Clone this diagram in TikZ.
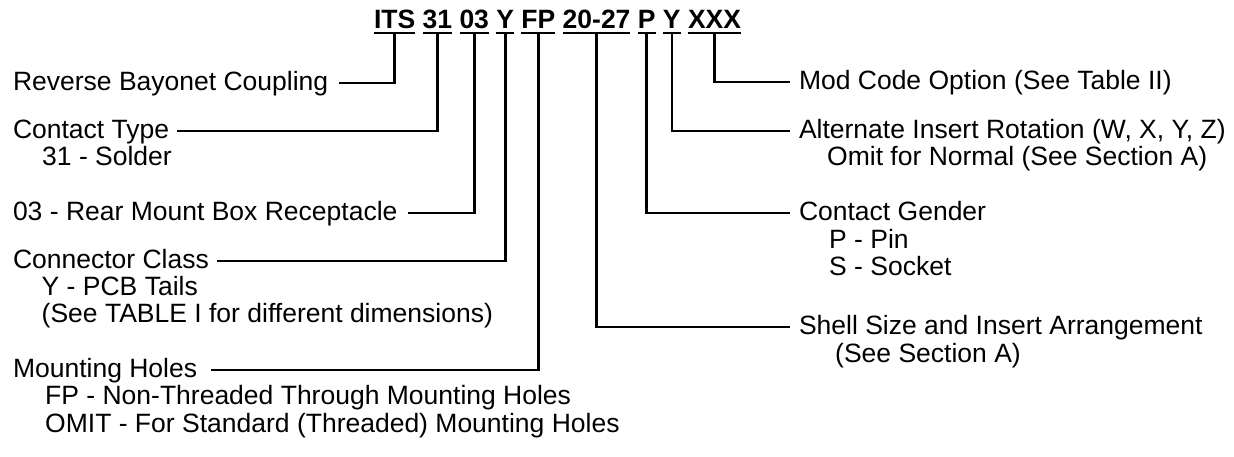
\documentclass[tikz,border=0pt]{standalone}
\usepackage{fontspec}
\setmainfont{Liberation Sans}
\tikzset{
  txt/.style={font=\fontsize{26.5}{28}\selectfont},
  seg/.style={font=\fontsize{26.5}{28}\selectfont\bfseries, anchor=base west,
              inner xsep=0pt, inner ysep=4pt, text depth=0pt, outer sep=0pt},
  headl/.style={txt, anchor=west, inner xsep=8pt, inner ysep=0pt,
                text height=19pt, text depth=4pt, outer sep=0pt},
  sub/.style={txt, anchor=base west, inner sep=0pt},
  ln/.style={line width=2.6pt, line join=miter},
  ul/.style={line width=2.4pt}
}
\begin{document}
\begin{tikzpicture}[x=1pt,y=-1pt]
\useasboundingbox (0,0) rectangle (1234,457);

% part number segments
\node[seg] (its) at (374,29) {ITS};
\node[seg] (s31) at ([xshift=7.4pt]its.base east) {31};
\node[seg] (s03) at ([xshift=7.4pt]s31.base east) {03};
\node[seg] (sy)  at ([xshift=7.4pt]s03.base east) {Y};
\node[seg] (sfp) at ([xshift=7.4pt]sy.base east) {FP};
\node[seg] (ssz) at ([xshift=7.4pt]sfp.base east) {20-27};
\node[seg] (sp)  at ([xshift=7.4pt]ssz.base east) {P};
\node[seg] (sy2) at ([xshift=7.4pt]sp.base east) {Y};
\node[seg] (sx)  at ([xshift=7.4pt]sy2.base east) {XXX};
\foreach \n in {its,s31,s03,sy,sfp,ssz,sp,sy2,sx}
  \draw[ul] (\n.south west) -- (\n.south east);

% left labels
\node[headl, inner xsep=11pt] (rb) at (2,83) {Reverse Bayonet Coupling};
\node[headl] (ct) at (5,131) {Contact Type};
\node[sub] (ct1) at (42,166) {31 - Solder};
\node[headl, inner xsep=11pt] (rm) at (2,213) {03 - Rear Mount Box Receptacle};
\node[headl] (cc) at (5,261) {Connector Class};
\node[sub] (cc1) at (41.5,295) {Y - PCB Tails};
\node[sub] (cc2) at (41.5,322.5) {(See TABLE I for different dimensions)};
\node[headl, inner xsep=14pt] (mh) at (-1,370) {Mounting Holes};
\node[sub] (mh1) at (45,404.5) {FP - Non-Threaded Through Mounting Holes};
\node[sub] (mh2) at (45,432) {OMIT - For Standard (Threaded) Mounting Holes};

% right labels
\node[headl, inner xsep=9pt] (mod) at (790,82) {Mod Code Option (See Table II)};
\node[headl, inner xsep=9pt] (alt) at (790,131) {Alternate Insert Rotation (W, X, Y, Z)};
\node[sub] (alt1) at (827,166) {Omit for Normal (See Section A)};
\node[headl, inner xsep=9pt] (cg) at (790,213) {Contact Gender};
\node[sub] (cg1) at (829,248) {P - Pin};
\node[sub] (cg2) at (829,275.5) {S - Socket};
\node[headl, inner xsep=9pt] (ss) at (790,327) {Shell Size and Insert Arrangement};
\node[sub] (ss1) at (835,362) {(See Section A)};

% connectors
\draw[ln] (its.south) |- (rb.east);
\draw[ln] (s31.south) |- (ct.east);
\draw[ln] (s03.south) |- (rm.east);
\draw[ln] (sy.south)  |- (cc.east);
\draw[ln] (sfp.south) |- (mh.east);
\draw[ln] (ssz.south) |- (ss.west);
\draw[ln] (sp.south)  |- (cg.west);
\draw[ln] (sy2.south) |- (alt.west);
\draw[ln] (sx.south)  |- (mod.west);
\end{tikzpicture}
\end{document}
